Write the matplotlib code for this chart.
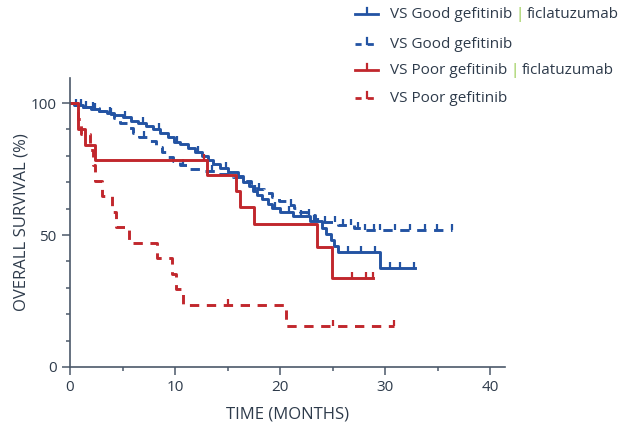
import numpy as np
import matplotlib.pyplot as plt

plt.rcParams['font.family'] = ['Open Sans', 'DejaVu Sans']

# VS Good, gefitinib + ficlatuzumab (event times in months, survival % after event)
good_combo_t = [0.5, 1.2, 2.0, 2.8, 3.5, 4.2, 5.0, 5.8, 6.5, 7.2, 7.9, 8.6, 9.3, 9.9,
                10.5, 11.2, 11.9, 12.6, 13.1, 13.6, 14.3, 15.0, 16.0, 16.5, 17.0, 17.4,
                17.8, 18.3, 18.8, 19.2, 20.0, 21.2, 22.8, 24.0, 24.4, 24.8, 25.1, 25.5, 29.5]
good_combo_s = [99.2, 98.5, 97.7, 96.9, 96.2, 95.4, 94.6, 93.1, 92.3, 91.5, 90.0, 88.5, 87.0, 85.4,
                84.6, 83.1, 81.5, 80.0, 78.5, 77.0, 75.4, 73.8, 72.3, 70.0, 68.4, 66.8,
                65.2, 63.5, 61.9, 60.3, 58.7, 57.1, 55.5, 52.5, 50.5, 48.0, 46.0, 43.5, 37.5]
good_combo_end = 32.8
good_combo_cens = [0.6, 1.5, 2.4, 3.8, 5.2, 6.9, 8.5, 10.2, 12.2, 14.8, 17.6, 19.5, 20.8,
                   22.0, 23.2, 26.5, 27.7, 29.0, 30.5, 31.4, 32.7]

# VS Good, gefitinib
good_gef_t = [0.4, 1.2, 2.0, 2.8, 3.5, 4.2, 4.8, 5.4, 6.0, 6.6, 7.6, 8.2, 8.8, 9.3, 9.8,
              10.5, 11.2, 12.5, 14.0, 15.5, 16.6, 17.2, 17.8, 18.5, 19.2, 19.9, 20.6, 21.3,
              21.9, 22.6, 23.3, 24.2, 25.5, 27.0, 28.0]
good_gef_s = [99.4, 98.7, 98.0, 97.0, 96.0, 94.5, 92.5, 90.5, 88.5, 87.0, 85.5, 83.5, 81.5, 79.5, 78.0,
              76.5, 75.2, 74.2, 73.0, 72.0, 70.5, 69.0, 67.5, 66.0, 64.5, 63.0, 61.5, 60.2,
              58.8, 57.5, 56.0, 54.8, 53.8, 52.8, 52.0]
good_gef_end = 36.4
good_gef_cens = [1.0, 2.2, 3.9, 7.0, 10.8, 13.5, 18.0, 21.0, 22.7, 24.3, 25.2, 26.0, 26.7,
                 27.4, 28.1, 28.9, 29.5, 30.9, 32.4, 33.8, 34.9, 36.4]

# VS Poor, gefitinib + ficlatuzumab
poor_combo_t = [0.8, 1.4, 2.4, 13.0, 15.8, 16.2, 17.5, 23.5, 24.9]
poor_combo_s = [90.0, 84.0, 78.4, 72.7, 66.7, 60.6, 54.0, 45.5, 33.7]
poor_combo_end = 28.8
poor_combo_cens = [12.8, 26.8, 28.2, 28.8]

# VS Poor, gefitinib
poor_gef_t = [0.8, 1.0, 1.9, 2.2, 2.4, 3.0, 4.0, 4.4, 5.6, 8.3, 9.7, 10.1, 10.8, 20.6]
poor_gef_s = [94.1, 88.2, 82.4, 76.5, 70.6, 64.7, 58.8, 52.9, 47.1, 41.2, 35.3, 29.4, 23.5, 15.7]
poor_gef_end = 30.8
poor_gef_cens = [15.0, 25.0, 30.8]

blue = '#2353a3'
red = '#c1272d'
txt = '#2e3b4b'
axc = '#4b5969'
green = '#8cc63f'


def km(ax, t, s, end, cens, color, ls):
    x = np.array([0] + t + [end])
    y = np.array([100] + s + [s[-1]])
    if ls == 'dashed':
        ax.step(x, y, where='post', color=color, lw=2.1, dashes=(3.2, 2.6))
    else:
        ax.step(x, y, where='post', color=color, lw=2.1)
    idx = np.searchsorted(x, cens, side='right') - 1
    idx = np.clip(idx, 0, len(y) - 1)
    ax.plot(cens, y[idx], ls='none', marker=2, ms=4.5, mew=1.6, color=color)


fig = plt.figure(figsize=(6.38, 4.22), dpi=100)
ax = fig.add_axes([70 / 638, 55 / 422, 435 / 638, 289 / 422])

km(ax, good_combo_t, good_combo_s, good_combo_end, good_combo_cens, blue, 'solid')
km(ax, good_gef_t, good_gef_s, good_gef_end, good_gef_cens, blue, 'dashed')
km(ax, poor_combo_t, poor_combo_s, poor_combo_end, poor_combo_cens, red, 'solid')
km(ax, poor_gef_t, poor_gef_s, poor_gef_end, poor_gef_cens, red, 'dashed')

ax.set_xlim(0, 41.4)
ax.set_ylim(0, 109.5)
ax.set_xticks([0, 10, 20, 30, 40])
ax.set_xticks([5, 15, 25, 35], minor=True)
ax.set_yticks([0, 50, 100])
ax.set_yticks([10, 20, 30, 40, 60, 70, 80, 90], minor=True)
for s in ['top', 'right']:
    ax.spines[s].set_visible(False)
for s in ['left', 'bottom']:
    ax.spines[s].set_color(axc)
    ax.spines[s].set_linewidth(1.2)
ax.tick_params(which='major', length=6, width=1.1, color=axc, labelcolor=txt, labelsize=11)
ax.tick_params(which='minor', length=3, width=1.1, color=axc)
ax.set_xlabel('TIME (MONTHS)', color=txt, fontsize=12, labelpad=8)
ax.set_ylabel('OVERALL SURVIVAL (%)', color=txt, fontsize=12, labelpad=1)

# legend drawn by hand so the separator can be green
entries = [
    ('VS Good gefitinib', True, blue, 'solid'),
    ('VS Good gefitinib', False, blue, 'dashed'),
    ('VS Poor gefitinib', True, red, 'solid'),
    ('VS Poor gefitinib', False, red, 'dashed'),
]
rows = [14, 44, 70, 98]
W, H = 638, 422
fig.canvas.draw()
r = fig.canvas.get_renderer()
for (lab, combo, col, ls), yy in zip(entries, rows):
    yf = 1 - yy / H
    if ls == 'dashed':
        fig.add_artist(plt.Line2D([355 / W, 378 / W], [yf, yf], color=col, lw=2, dashes=(2.2, 2.2)))
    else:
        fig.add_artist(plt.Line2D([355 / W, 378 / W], [yf, yf], color=col, lw=2))
    fig.add_artist(plt.Line2D([366.5 / W, 366.5 / W], [yf, yf + 6 / H], color=col, lw=1.6))
    t1 = fig.text(390 / W, yf, lab, color=txt, fontsize=11, va='center', ha='left')
    if combo:
        x1 = t1.get_window_extent(r).x1
        t2 = fig.text((x1 + 3) / W, yf, '|', color=green, fontsize=11, va='center', ha='left')
        x2 = t2.get_window_extent(r).x1
        fig.text((x2 + 3) / W, yf, 'ficlatuzumab', color=txt, fontsize=11, va='center', ha='left')

fig.savefig('out.png', dpi=100)
